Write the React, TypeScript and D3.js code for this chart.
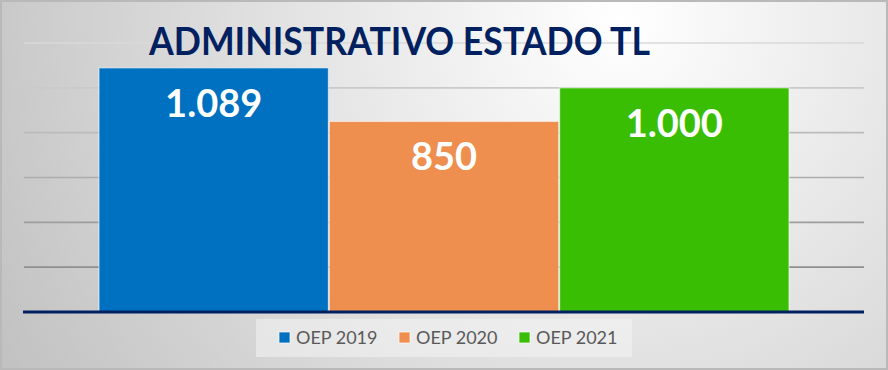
import React from 'react';
import * as d3 from 'd3';

const title = 'ADMINISTRATIVO ESTADO TL';
const seriesNames = ['OEP 2019', 'OEP 2020', 'OEP 2021'];
const seriesValues = [1089, 850, 1000];
const valueLabels = ['1.089', '850', '1.000'];
const seriesColors = ['#0070C0', '#EE8E4F', '#3ABE04'];
const gridTicks = [200, 400, 600, 800, 1000, 1200];

const W = 888;
const H = 370;

const App: React.FC = () => {
  // plot area
  const plotLeft = 24;
  const plotRight = 864;
  const baseY = 312;

  const y = d3.scaleLinear().domain([0, 1200]).range([baseY, 43]);
  const x = d3.scaleBand<string>().domain(seriesNames).range([99, 789]).paddingInner(0.004);

  // legend layout
  const legendX = [279, 399, 519];

  return (
    <svg width={W} height={H} style={{ position: 'absolute', left: 0, top: 0, display: 'block' }}>
      <defs>
        <radialGradient id="bg" gradientUnits="userSpaceOnUse" cx={620} cy={20} r={700}>
          <stop offset="0" stopColor="#ffffff" />
          <stop offset="0.55" stopColor="#dedede" />
          <stop offset="1" stopColor="#c2c2c2" />
        </radialGradient>
        <linearGradient id="grid" gradientUnits="userSpaceOnUse" x1={0} y1={40} x2={0} y2={270}>
          <stop offset="0" stopColor="#dadada" />
          <stop offset="1" stopColor="#8e8e8e" />
        </linearGradient>
      </defs>

      <rect x={0} y={0} width={W} height={H} fill="url(#bg)" />
      <rect x={1} y={1} width={W - 2} height={H - 2} fill="none" stroke="#b9b9b9" strokeWidth={2} />

      {/* gridlines */}
      <g>
        {gridTicks.map(t => (
          <line key={t} x1={plotLeft} x2={plotRight} y1={y(t)} y2={y(t)} stroke="url(#grid)" strokeWidth={1.6} />
        ))}
      </g>

      {/* bars */}
      <g>
        {seriesNames.map((s, i) => (
          <rect
            key={s}
            x={x(s)}
            y={y(seriesValues[i])}
            width={x.bandwidth()}
            height={baseY - y(seriesValues[i])}
            fill={seriesColors[i]}
            stroke="rgba(255,255,255,0.55)"
            strokeWidth={1.2}
          />
        ))}
      </g>

      {/* value labels */}
      <g>
        {seriesNames.map((s, i) => (
          <text
            key={s}
            x={(x(s) ?? 0) + x.bandwidth() / 2}
            y={y(seriesValues[i]) + 49}
            textAnchor="middle"
            fontFamily="Lato, 'Open Sans', sans-serif"
            fontWeight="bold"
            fontSize={38}
            fill="#ffffff"
          >
            {valueLabels[i]}
          </text>
        ))}
      </g>

      {/* axis baseline */}
      <line x1={plotLeft - 1} x2={plotRight} y1={baseY} y2={baseY} stroke="#002060" strokeWidth={3} />

      {/* title */}
      <text
        x={149}
        y={55}
        fontFamily="Lato, 'Open Sans', sans-serif"
        fontWeight="bold"
        fontSize={38}
        fill="#002060"
        textLength={501}
        lengthAdjust="spacingAndGlyphs"
      >
        {title}
      </text>

      {/* legend */}
      <rect x={256} y={319} width={376} height={38} fill="rgba(244,244,244,0.55)" />
      {seriesNames.map((s, i) => (
        <g key={s}>
          <rect
            x={legendX[i]}
            y={332}
            width={11}
            height={11}
            fill={seriesColors[i]}
            stroke="rgba(255,255,255,0.7)"
            strokeWidth={1}
          />
          <text
            x={legendX[i] + 17}
            y={344}
            fontFamily="Lato, 'Open Sans', sans-serif"
            fontSize={18}
            fill="#595959"
          >
            {s}
          </text>
        </g>
      ))}
    </svg>
  );
};

export default App;
